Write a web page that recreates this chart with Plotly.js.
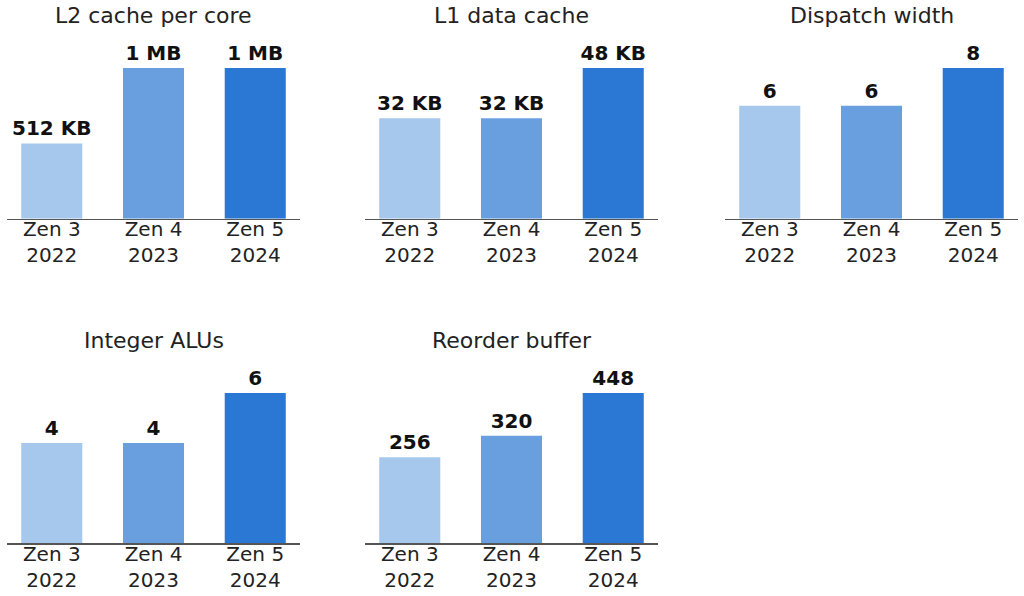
<!DOCTYPE html>
<html>
<head>
<meta charset="utf-8">
<script src="https://cdn.plot.ly/plotly-3.0.1.min.js"></script>
<style>
  html, body { margin: 0; padding: 0; background: #fff; }
  #chart { width: 1024px; height: 596px; }
</style>
</head>
<body>
<div id="chart"></div>
<script>
// chart data
var generations = ["Zen 3", "Zen 4", "Zen 5"];
var years = ["2022", "2023", "2024"];

var l2Values = [512, 1024, 1024]; // KB
var l2Labels = ["512 KB", "1 MB", "1 MB"];

var l1Values = [32, 32, 48];
var l1Labels = ["32 KB", "32 KB", "48 KB"];

var dispatchValues = [6, 6, 8];
var aluValues = [4, 4, 6];
var robValues = [256, 320, 448];

var titles = ["L2 cache per core", "L1 data cache", "Dispatch width", "Integer ALUs", "Reorder buffer"];
var barColors = ["#a6c8ed", "#6a9fdf", "#2a77d4"];

var cats = generations.map(function (g, i) { return g + "<br>" + years[i]; });

var panels = [
  { y: l2Values, text: l2Labels },
  { y: l1Values, text: l1Labels },
  { y: dispatchValues, text: dispatchValues.map(String) },
  { y: aluValues, text: aluValues.map(String) },
  { y: robValues, text: robValues.map(String) },
];

// subplot positions (px)
var colX = [[7, 300], [365, 658], [725, 1018]];
var rowY = [[38, 218.7], [363, 543]]; // top, bottom
var W = 1024, H = 596;

var data = [];
var layout = {
  width: W,
  height: H,
  margin: { l: 0, r: 0, t: 0, b: 0 },
  paper_bgcolor: "white",
  plot_bgcolor: "white",
  showlegend: false,
  font: { family: "DejaVu Sans", color: "#222" },
  annotations: [],
};

panels.forEach(function (p, i) {
  var col = i % 3, row = Math.floor(i / 3);
  var n = i === 0 ? "" : String(i + 1);
  data.push({
    type: "bar",
    x: cats,
    y: p.y,
    text: p.text,
    textposition: "outside",
    textfont: { family: "DejaVu Sans", size: 20, weight: "bold", color: "#111" },
    constraintext: "none",
    cliponaxis: false,
    width: 0.6,
    marker: { color: barColors },
    hoverinfo: "none",
    xaxis: "x" + n,
    yaxis: "y" + n,
  });

  var x0 = colX[col][0] / W, x1 = colX[col][1] / W;
  var y0 = 1 - rowY[row][1] / H, y1 = 1 - rowY[row][0] / H;
  var maxV = Math.max.apply(null, p.y);

  layout["xaxis" + n] = {
    domain: [x0, x1],
    anchor: "y" + n,
    range: [-0.44, 2.44],
    showline: true,
    linecolor: "#555",
    linewidth: 1.5,
    ticks: "",
    ticklabelstandoff: -8,
    showgrid: false,
    zeroline: false,
    fixedrange: true,
    tickfont: { family: "DejaVu Sans", size: 20, color: "#222" },
  };
  layout["yaxis" + n] = {
    domain: [y0, y1],
    anchor: "x" + n,
    range: [0, maxV * 1.2],
    visible: false,
    fixedrange: true,
  };
  layout.annotations.push({
    text: titles[i],
    xref: "paper",
    yref: "paper",
    x: (x0 + x1) / 2,
    y: 1 - (row === 0 ? 16 : 340) / H,
    xanchor: "center",
    yanchor: "middle",
    showarrow: false,
    font: { family: "DejaVu Sans", size: 22, color: "#222" },
  });
});

Plotly.newPlot("chart", data, layout, { staticPlot: true });
</script>
</body>
</html>
